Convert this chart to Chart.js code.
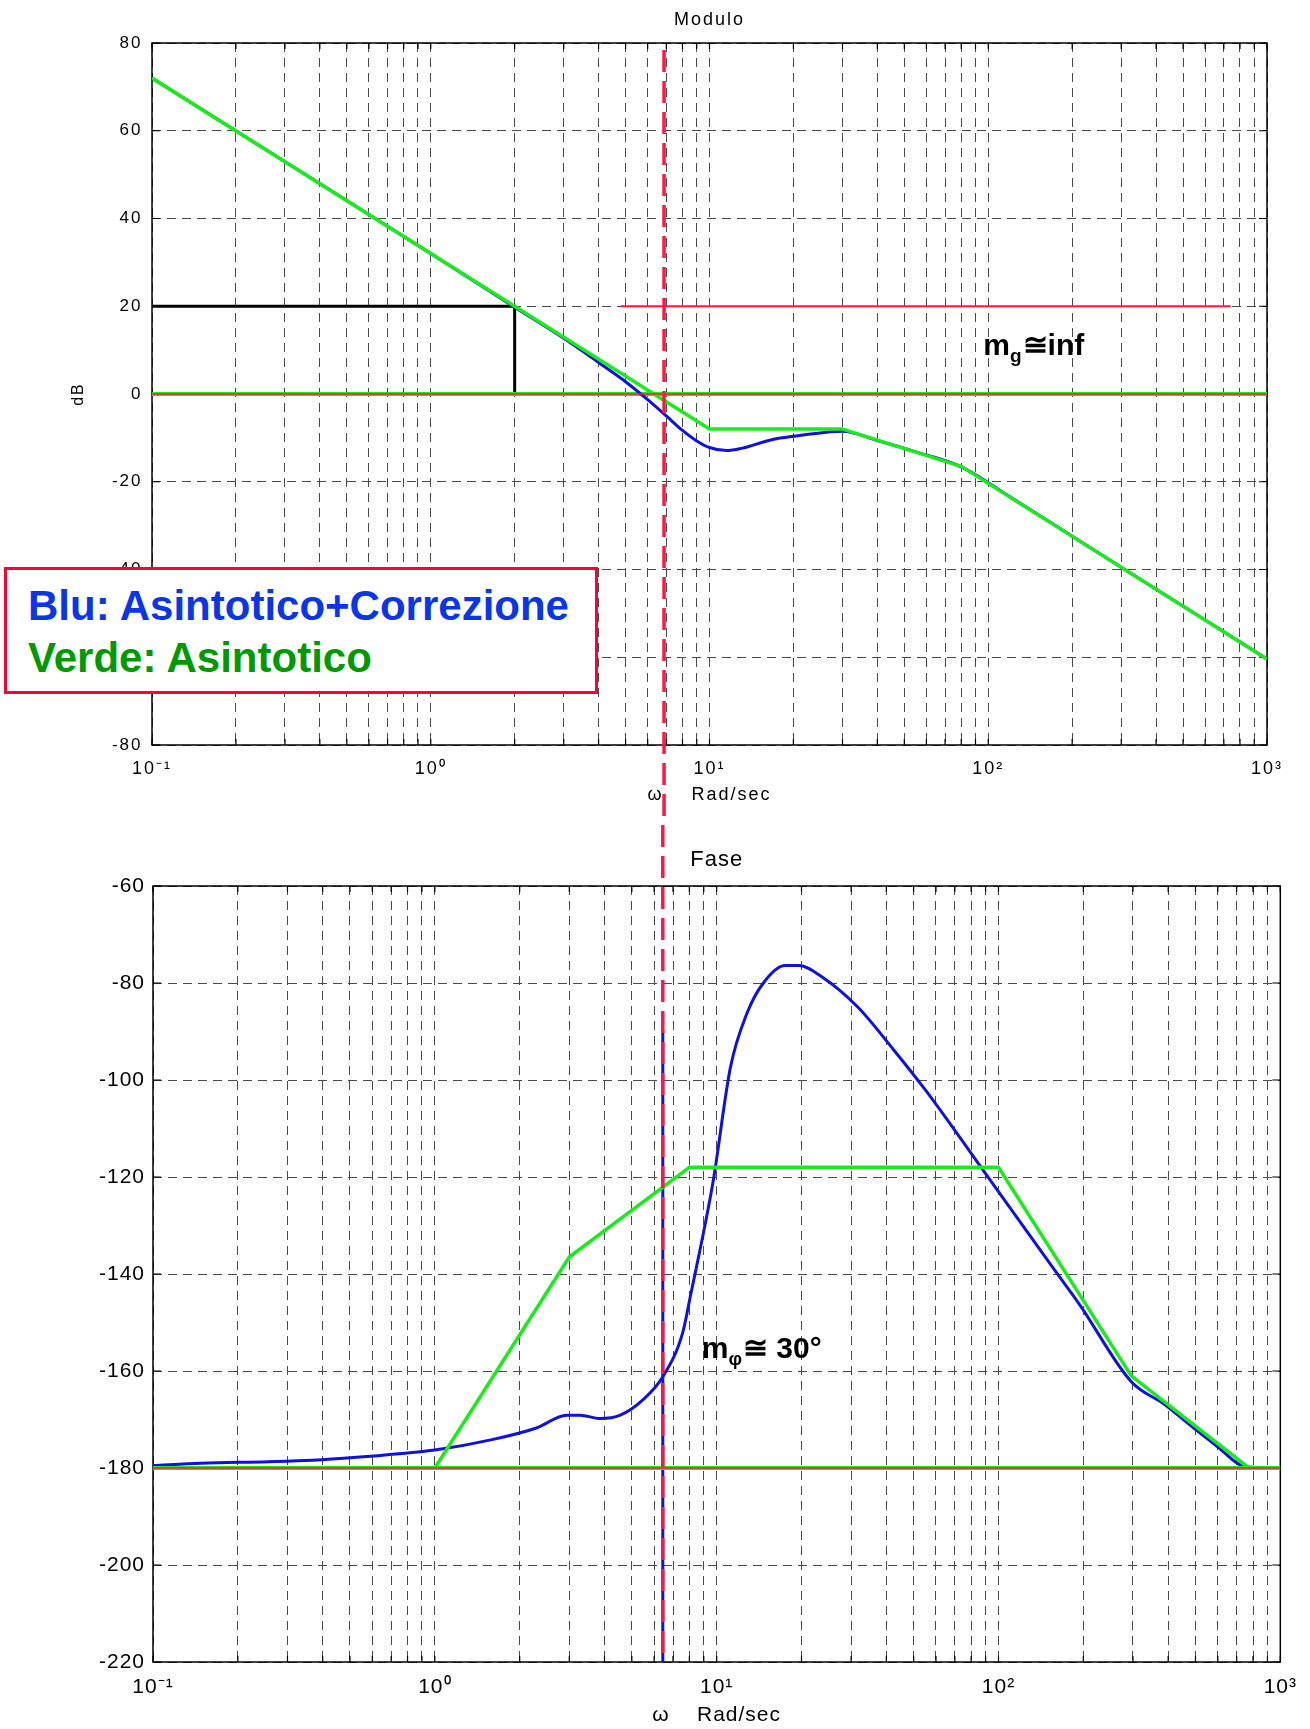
<!DOCTYPE html>
<html>
<head>
<meta charset="utf-8">
<script src="https://cdn.jsdelivr.net/npm/chart.js@4.4.1/dist/chart.umd.min.js"></script>
<style>
  html, body { margin: 0; padding: 0; background: #fff; }
  #page { position: relative; width: 1310px; height: 1729px; overflow: hidden; }
  #magChart { position: absolute; left: 0; top: 0; }
  #phaseChart { position: absolute; left: 0; top: 825px; }
  #note {
    position: absolute; left: 4px; top: 567px; width: 567px; height: 111px;
    padding: 10px 0 0 21px;
    border: 3px solid #ff0033; background: #fff;
    font: bold 42px "Liberation Sans", Arial, Helvetica, sans-serif; line-height: 52px;
    white-space: nowrap;
  }
  #note .blu { color: #0a36e6; }
  #note .verde { color: #009a00; }
</style>
</head>
<body>
<div id="page">
  <canvas id="magChart" width="1310" height="825"></canvas>
  <canvas id="phaseChart" width="1310" height="904"></canvas>
  <div id="note">
    <div class="blu">Blu: Asintotico+Correzione</div>
    <div class="verde">Verde: Asintotico</div>
  </div>
</div>
<script>
// frequency axis (rad/sec), log scale 0.1 .. 1000
const freqTicks = [0.1, 0.2, 0.3, 0.4, 0.5, 0.6, 0.7, 0.8, 0.9,
                   1, 2, 3, 4, 5, 6, 7, 8, 9,
                   10, 20, 30, 40, 50, 60, 70, 80, 90,
                   100, 200, 300, 400, 500, 600, 700, 800, 900, 1000];
const decadeValues = [0.1, 1, 10, 100, 1000];
const decadeLabels = ['10⁻¹', '10⁰', '10¹', '10²', '10³'];

// Modulo (dB)
const magTicks = [-80, -60, -40, -20, 0, 20, 40, 60, 80];
const magAsyW  = [0.1, 2, 10, 30, 80, 1000];
const magAsyDb = [72, 20, -8, -8, -16.5, -60.4];
const magCorrW  = [0.1, 1, 2, 3, 4, 5, 6, 7, 8, 9, 10, 11.5, 13, 17, 22, 30, 40, 55, 80, 120, 200, 400, 700, 1000];
const magCorrDb = [72, 32, 19.8, 12.7, 7.2, 2.8, -1.3, -5.0, -8.3, -10.7, -12.2, -12.9, -12.4, -10.3, -9.3, -8.5, -10.6, -13.2, -16.6, -23.5, -32.4, -44.5, -54.2, -60.4];
const magRefW  = [0.1, 2, 2];
const magRefDb = [20, 20, 0];
const gainLineW  = [4.8, 741];
const gainLineDb = [20, 20];
const magZeroW  = [0.1, 1000];
const magZeroDb = [0, 0];
const magCrossW = 6.87;        // crossover (red dashed)
const magCrossTopDb = 78.4;
const magNoteW = 96, magNoteDb = 8.9;

// Fase (deg)
const phaseTicks = [-220, -200, -180, -160, -140, -120, -100, -80, -60];
const phAsyW   = [0.1, 1, 3, 8, 100, 296, 774, 1000];
const phAsyDeg = [-180, -180, -136.5, -118, -118, -161, -180, -180];
const phCorrW   = [0.1, 0.148, 0.256, 0.368, 0.528, 0.763, 1.0, 1.58, 2.28, 2.94, 3.28, 3.86, 4.55, 5.46, 6.44, 7.57, 8.06, 9.69, 11.2, 12.8, 14.6, 17.5, 19.6, 23.6, 31.6, 42.5, 55.1, 74.1, 92.5, 155, 194, 296, 391, 470, 587, 760, 1000];
const phCorrDeg = [-179.5, -179.0, -178.7, -178.4, -177.8, -177.0, -176.3, -174.2, -171.8, -169.1, -169.1, -169.8, -169.1, -166.0, -161.2, -152.2, -144.7, -121.3, -97.3, -86.3, -80.1, -76.4, -76.4, -78.7, -84.9, -93.8, -102.1, -112.4, -120.3, -138.5, -146.3, -162.2, -167.0, -170.8, -175.2, -179.8, -180];
const phLimW   = [0.1, 1000];
const phLimDeg = [-180, -180];
const phMarkW   = [6.44, 6.44];
const phMarkDeg = [-90, -220];
const phCrossW = 6.44;
const phNoteW = 8.85, phNoteDeg = -157.3;

const RED = '#ff1744', GREEN = '#1aeb1a', BLUE = '#1010e0', GRID = '#4a4a4a';
const FONT = '"Liberation Sans", Arial, Helvetica, sans-serif';
Chart.defaults.font.family = FONT;
Chart.defaults.color = '#000';

function pts(xs, ys) {
    return xs.map((x, i) => ({ x: x, y: ys[i] }));
}

function line(xs, ys, color, width, extra) {
    return Object.assign({
        data: pts(xs, ys),
        borderColor: color,
        borderWidth: width,
        pointRadius: 0,
        fill: false,
        tension: 0,
        borderJoinStyle: 'round'
    }, extra || {});
}

function freqAxis(fontSize, tickPad, titlePad, axisHeight) {
    return {
        type: 'logarithmic',
        min: 0.1,
        max: 1000,
        afterBuildTicks: s => { s.ticks = freqTicks.map(v => ({ value: v })); },
        afterFit: s => { s.height = axisHeight; },
        ticks: {
            autoSkip: false,
            maxRotation: 0,
            padding: tickPad,
            font: { size: fontSize },
            callback: v => {
                const i = decadeValues.findIndex(d => Math.abs(d - v) / d < 1e-6);
                return i >= 0 ? decadeLabels[i] : '';
            }
        },
        grid: { color: GRID, lineWidth: 1, drawTicks: false },
        border: { display: false, dash: [9, 6] },
        title: { display: true, text: 'ω    Rad/sec', font: { size: fontSize }, padding: { top: 0, bottom: titlePad } }
    };
}

function valueAxis(ticks, axisWidth, fontSize, tickPad, title) {
    return {
        min: ticks[0],
        max: ticks[ticks.length - 1],
        afterBuildTicks: s => { s.ticks = ticks.map(v => ({ value: v })); },
        afterFit: s => { s.width = axisWidth; },
        ticks: { padding: tickPad, font: { size: fontSize } },
        grid: { color: GRID, lineWidth: 1, drawTicks: false },
        border: { display: false, dash: [9, 6] },
        title: title
    };
}

function drawNote(ctx, px, py, main, sub, rest) {
    ctx.save();
    ctx.letterSpacing = '0px';
    ctx.fillStyle = '#000';
    ctx.textBaseline = 'alphabetic';
    ctx.textAlign = 'left';
    ctx.font = 'bold 30px ' + FONT;
    ctx.fillText(main, px, py);
    let x = px + ctx.measureText(main).width;
    ctx.font = 'bold 19px ' + FONT;
    ctx.fillText(sub, x, py + 7);
    x += ctx.measureText(sub).width + 1;
    ctx.font = 'bold 30px ' + FONT;
    ctx.fillText(rest, x, py);
    ctx.restore();
}

// frame, inner tick marks, crossover line and text notes
function bodeDecor(opts) {
    return {
        id: 'bodeDecor',
        beforeLayout(chart) { chart.ctx.letterSpacing = opts.spacing; },
        beforeDraw(chart) { chart.ctx.letterSpacing = opts.spacing; },
        beforeDatasetsDraw(chart) {
            const { ctx, chartArea: a, scales: { x, y } } = chart;
            ctx.save();
            ctx.strokeStyle = '#000';
            ctx.lineWidth = 1.5;
            ctx.strokeRect(a.left, a.top, a.right - a.left, a.bottom - a.top);
            ctx.lineWidth = 1.2;
            ctx.beginPath();
            x.ticks.forEach(t => {
                const px = x.getPixelForValue(t.value);
                ctx.moveTo(px, a.bottom); ctx.lineTo(px, a.bottom - 6);
                ctx.moveTo(px, a.top); ctx.lineTo(px, a.top + 6);
            });
            y.ticks.forEach(t => {
                const py = y.getPixelForValue(t.value);
                ctx.moveTo(a.left, py); ctx.lineTo(a.left + 8, py);
                ctx.moveTo(a.right, py); ctx.lineTo(a.right - 8, py);
            });
            ctx.stroke();
            ctx.restore();
        },
        afterDatasetsDraw(chart) {
            const { ctx, chartArea: a, scales: { x, y } } = chart;
            const px = x.getPixelForValue(opts.crossW);
            const top = opts.crossTop != null ? y.getPixelForValue(opts.crossTop) : 0;
            const bottom = opts.toCanvasBottom ? chart.height : a.bottom;
            ctx.save();
            ctx.strokeStyle = RED;
            ctx.lineWidth = 3.5;
            ctx.setLineDash([22, 9]);
            ctx.beginPath();
            ctx.moveTo(px, top);
            ctx.lineTo(px, bottom);
            ctx.stroke();
            ctx.restore();
            const n = opts.note;
            drawNote(ctx, x.getPixelForValue(n.w), y.getPixelForValue(n.v), n.main, n.sub, n.rest);
        }
    };
}

new Chart(document.getElementById('magChart'), {
    type: 'line',
    data: {
        datasets: [
            line(magZeroW, magZeroDb, RED, 1.5),
            line(magAsyW, magAsyDb, GREEN, 3.5),
            line(magCorrW, magCorrDb, BLUE, 3, { cubicInterpolationMode: 'monotone' }),
            line(magZeroW, magZeroDb, GREEN, 4),
            line(magRefW, magRefDb, '#000', 3, { borderJoinStyle: 'miter' }),
            line(gainLineW, gainLineDb, RED, 2)
        ]
    },
    options: {
        responsive: false,
        animation: false,
        layout: { padding: { left: 0, right: 43, top: 0, bottom: 0 } },
        plugins: {
            legend: { display: false },
            tooltip: { enabled: false },
            title: { display: true, fullSize: false, text: 'Modulo', font: { size: 18, weight: 'normal' }, padding: { top: 9.2, bottom: 12.2 } }
        },
        scales: {
            x: freqAxis(18, 13, 19, 80),
            y: valueAxis(magTicks, 152, 17, 9.5,
                { display: true, text: 'dB', font: { size: 16 }, padding: { top: 69, bottom: 0 } })
        }
    },
    plugins: [bodeDecor({
        spacing: '2px',
        crossW: magCrossW,
        crossTop: magCrossTopDb,
        toCanvasBottom: true,
        note: { w: magNoteW, v: magNoteDb, main: 'm', sub: 'g', rest: '≅inf' }
    })]
});

new Chart(document.getElementById('phaseChart'), {
    type: 'line',
    data: {
        datasets: [
            line(phLimW, phLimDeg, RED, 1.5),
            line(phAsyW, phAsyDeg, GREEN, 3.5),
            line(phLimW, phLimDeg, GREEN, 4),
            line(phCorrW, phCorrDeg, BLUE, 3, { cubicInterpolationMode: 'monotone' }),
            line(phMarkW, phMarkDeg, BLUE, 3)
        ]
    },
    options: {
        responsive: false,
        animation: false,
        layout: { padding: { left: 0, right: 29, top: 0, bottom: 0 } },
        plugins: {
            legend: { display: false },
            tooltip: { enabled: false },
            title: { display: true, fullSize: false, text: 'Fase', font: { size: 22, weight: 'normal' }, padding: { top: 21.6, bottom: 13 } }
        },
        scales: {
            x: freqAxis(21, 13, 1, 67),
            y: valueAxis(phaseTicks, 153, 21, 8, { display: false })
        }
    },
    plugins: [bodeDecor({
        spacing: '1px',
        crossW: phCrossW,
        crossTop: null,
        toCanvasBottom: false,
        note: { w: phNoteW, v: phNoteDeg, main: 'm', sub: 'φ', rest: '≅ 30°' }
    })]
});
</script>
</body>
</html>
